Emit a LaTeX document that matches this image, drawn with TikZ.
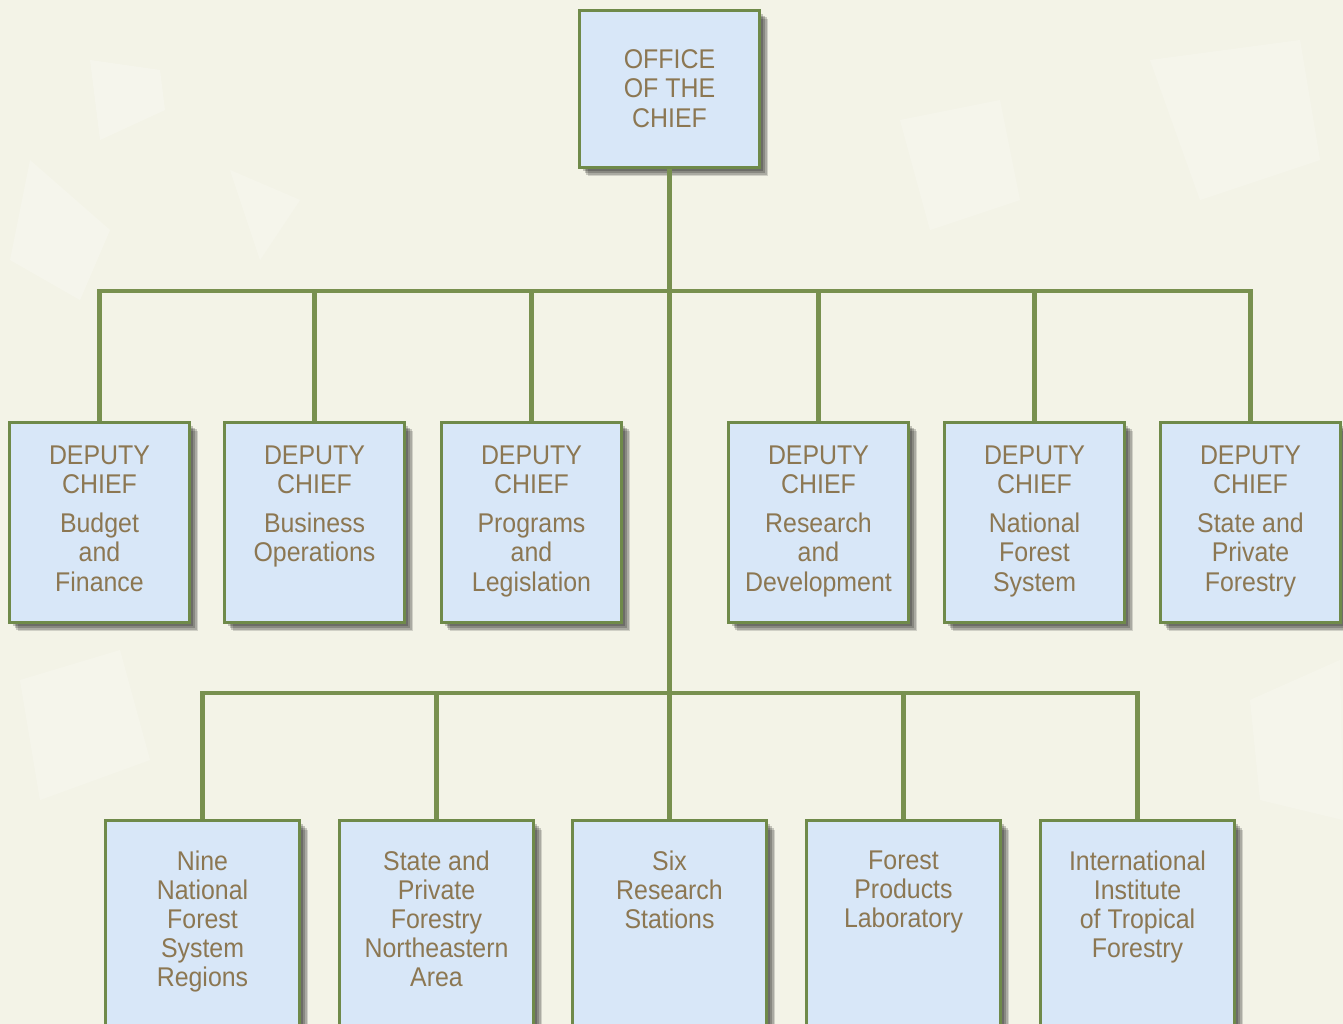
\documentclass[tikz,border=0pt]{standalone}
\usepackage{fontspec}
\setmainfont{Liberation Sans}[FakeStretch=0.92]
\usetikzlibrary{shadows}
\definecolor{bgc}{HTML}{F3F3E7}
\definecolor{boxfill}{HTML}{D8E7F8}
\definecolor{boxline}{HTML}{6F8A4A}
\definecolor{conn}{HTML}{78904F}
\definecolor{txtc}{HTML}{8C7752}
\begin{document}
\begin{tikzpicture}[x=0.02cm,y=-0.02cm,
  orgbox/.style={draw=boxline, line width=1.7pt, fill=boxfill, inner sep=0pt,
    general shadow={shadow xshift=5pt, shadow yshift=-5pt, fill=black, opacity=0.14},
    general shadow={shadow xshift=4pt, shadow yshift=-4pt, fill=black, opacity=0.18},
    general shadow={shadow xshift=3pt, shadow yshift=-3pt, fill=black, opacity=0.2},
    general shadow={shadow xshift=2pt, shadow yshift=-2pt, fill=black, opacity=0.2}},
  topbox/.style={orgbox, minimum width=102.6pt, minimum height=89.6pt},
  depbox/.style={orgbox, minimum width=102.6pt, minimum height=114pt},
  lowbox/.style={orgbox, minimum width=110.5pt, minimum height=130pt},
  lbl/.style={anchor=north, inner sep=0pt, align=center, text=txtc,
    font=\fontsize{15.4}{16.6}\selectfont},
  link/.style={draw=conn, line width=2.3pt}]
\useasboundingbox (0,0) rectangle (1343,1024);
\clip (0,0) rectangle (1343,1024);
\fill[bgc] (0,0) rectangle (1343,1024);
% subtle lighter patches of the textured background
\fill[white, opacity=0.22] (90,60) -- (160,70) -- (165,110) -- (100,140) -- cycle;
\fill[white, opacity=0.22] (30,160) -- (110,230) -- (80,300) -- (10,260) -- cycle;
\fill[white, opacity=0.2] (230,170) -- (300,200) -- (260,260) -- cycle;
\fill[white, opacity=0.2] (900,120) -- (1000,100) -- (1020,200) -- (930,230) -- cycle;
\fill[white, opacity=0.2] (1150,60) -- (1300,40) -- (1320,160) -- (1200,200) -- cycle;
\fill[white, opacity=0.2] (20,680) -- (120,650) -- (150,760) -- (40,800) -- cycle;
\fill[white, opacity=0.2] (1250,700) -- (1340,660) -- (1343,820) -- (1260,800) -- cycle;

% top
\node[topbox] (office) at (669.5,89) {};
\node[lbl] (officet) at ([yshift=-23.2pt]office.north) {OFFICE\\OF THE\\CHIEF};

% deputies
\foreach \n/\x/\t in {d1/99.5/{Budget\\and\\Finance},
                       d2/314.5/{Business\\Operations},
                       d3/531.5/{Programs\\and\\Legislation},
                       d4/818.5/{Research\\and\\Development},
                       d5/1034.5/{National\\Forest\\System},
                       d6/1250.5/{State and\\Private\\Forestry}}{
  \node[depbox] (\n) at (\x,522.5) {};
  \node[lbl] (\n t) at ([yshift=-14.2pt]\n.north) {DEPUTY\\CHIEF\\[5.5pt]\t};
}

% lower units
\foreach \n/\x/\t in {b1/202.5/{Nine\\National\\Forest\\System\\Regions},
                       b2/436.5/{State and\\Private\\Forestry\\Northeastern\\Area},
                       b3/669.5/{Six\\Research\\Stations},
                       b4/903.5/{Forest\\Products\\Laboratory},
                       b5/1137.5/{International\\Institute\\of Tropical\\Forestry}}{
  \node[lowbox] (\n) at (\x,935) {};
  \node[lbl] (\n t) at ([yshift=-17.6pt]\n.north) {\t};
}

% connectors
\coordinate (tbus) at (669.5,291);
\coordinate (bbus) at (669.5,693);
\draw[link] (office.south) -- (bbus);
\draw[link] (d1.north) -- (d1.north |- tbus) -- (d6.north |- tbus) -- (d6.north);
\foreach \n in {d2,d3,d4,d5}{\draw[link] (\n.north) -- (\n.north |- tbus);}
\draw[link] (b1.north) -- (b1.north |- bbus) -- (b5.north |- bbus) -- (b5.north);
\foreach \n in {b2,b3,b4}{\draw[link] (\n.north) -- (\n.north |- bbus);}
\end{tikzpicture}
\end{document}
